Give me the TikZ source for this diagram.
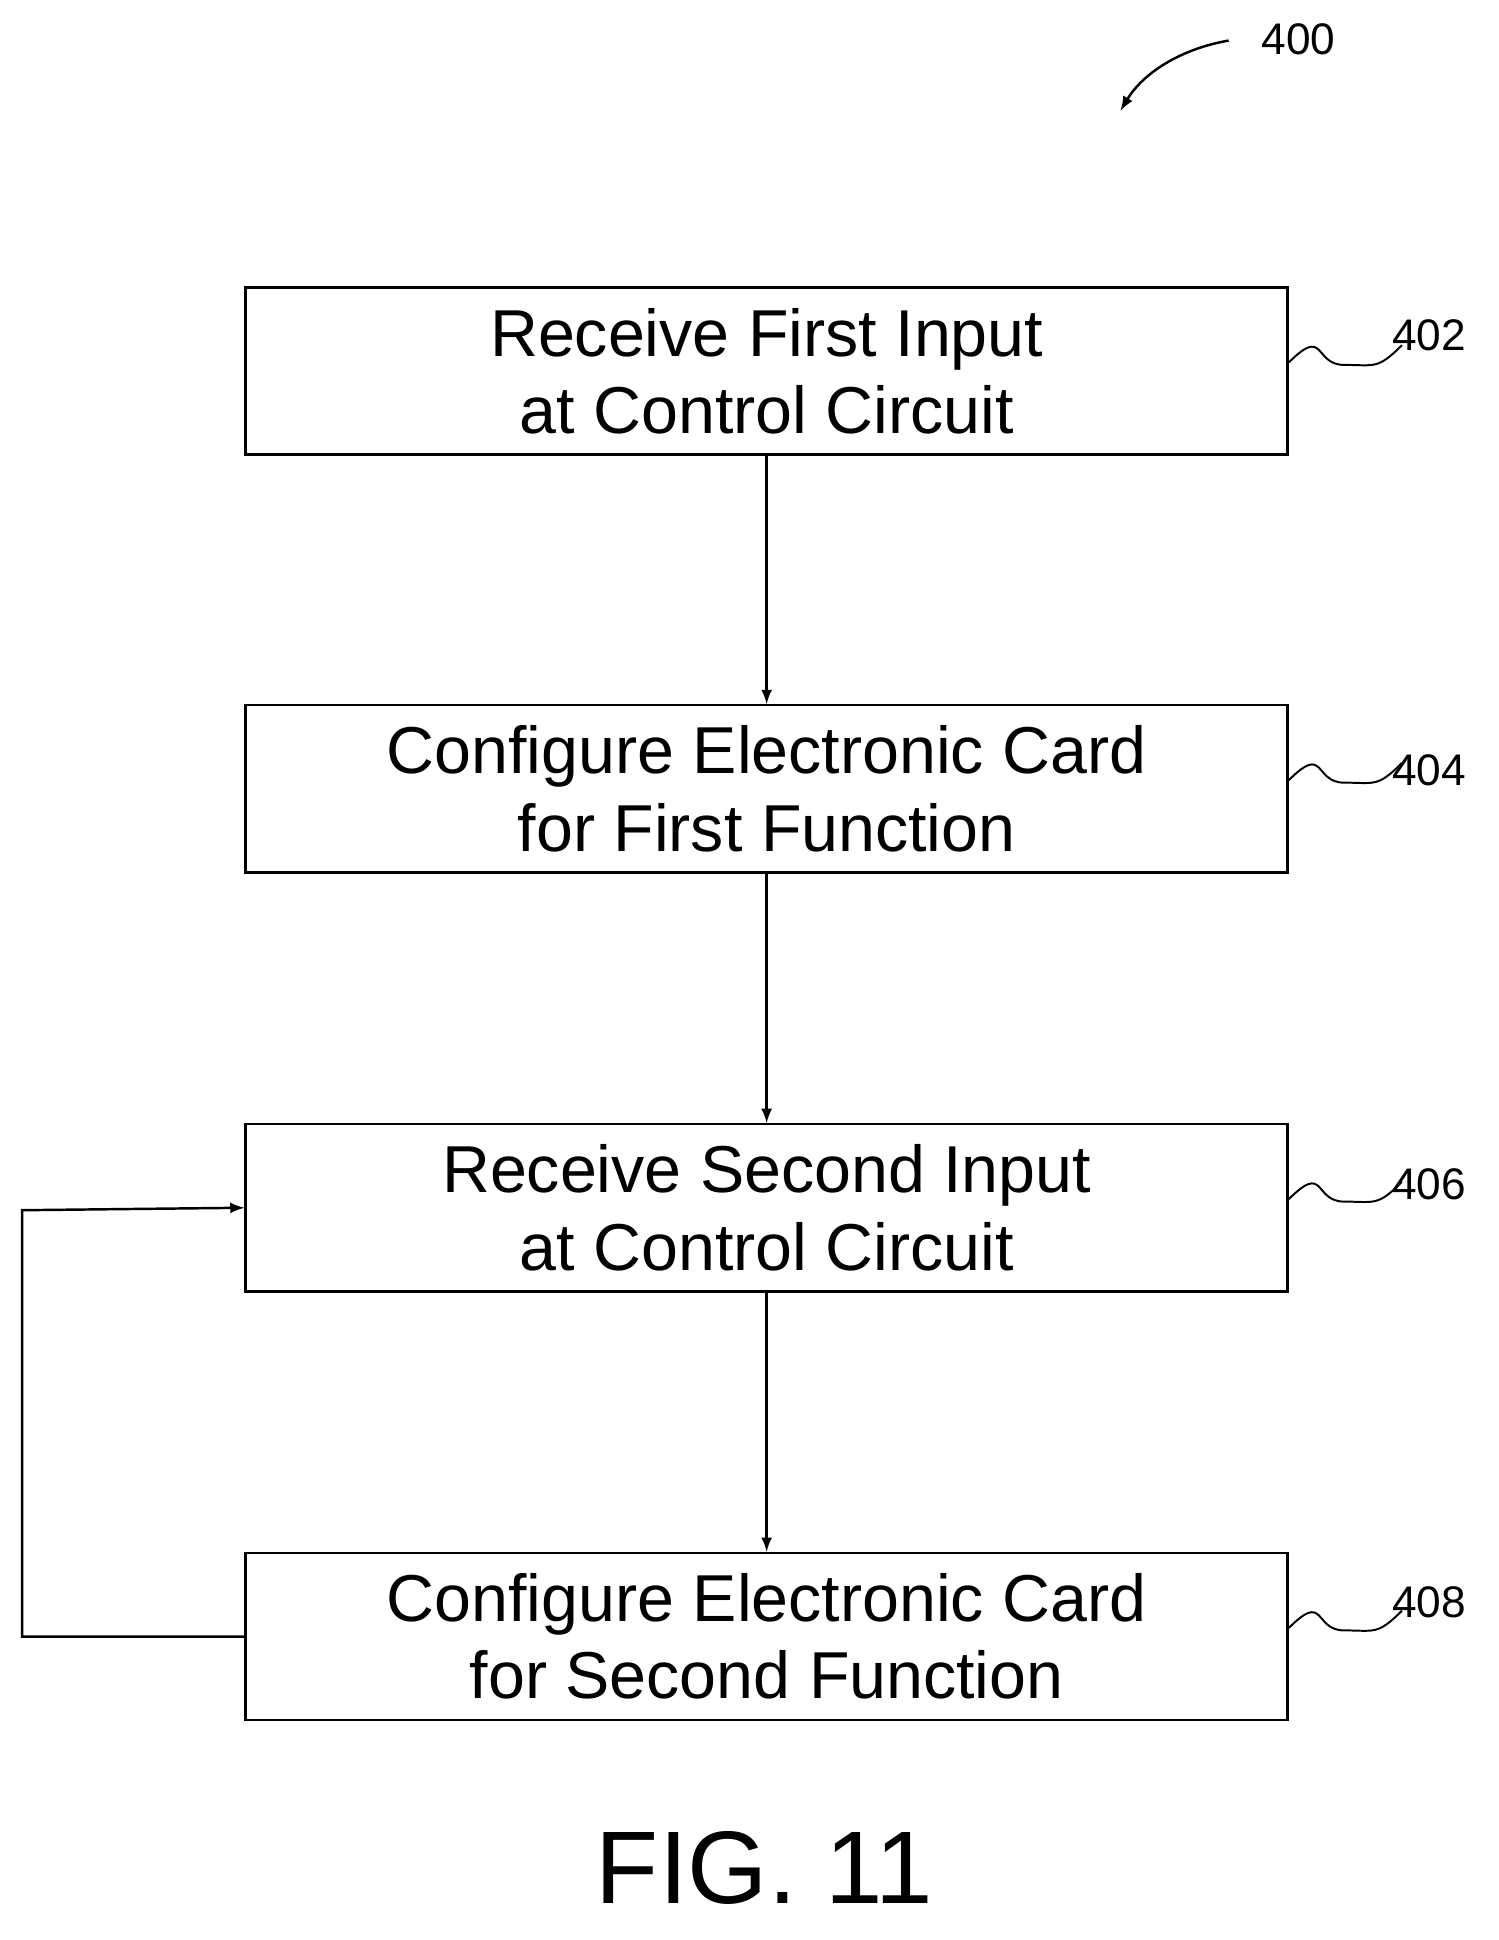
\documentclass[tikz,border=0pt]{standalone}
\usepackage{fontspec}
\setmainfont{Liberation Sans}
\usetikzlibrary{positioning}

\begin{document}
\begin{tikzpicture}[x=0.5pt, y=-0.5pt,
    stage/.style={draw, line width=1pt, minimum width=424pt, minimum height=68pt, align=center, font=\fontsize{27}{31.5}\selectfont, inner sep=0pt},
    ref/.style={font=\fontsize{18}{20}\selectfont}]

    \useasboundingbox (0,0) rectangle (1220,1579);

    \node[stage] (402) at (624, 302) {Receive First Input\\at Control Circuit};
    \node[stage] (404) at (624, 642) {Configure Electronic Card\\for First Function};
    \node[stage] (406) at (624, 983) {Receive Second Input\\at Control Circuit};
    \node[stage] (408) at (624, 1332) {Configure Electronic Card\\for Second Function};

    \node[ref] (l402) at (1163, 273) {402};
    \node[ref] (l404) at (1163, 627) {404};
    \node[ref] (l406) at (1163, 964) {406};
    \node[ref] (l408) at (1163, 1304) {408};
    \node[ref] (l400) at (1057, 32) {400};

    \draw[line width=1pt, -latex] (402) -- (404);
    \draw[line width=1pt, -latex] (404) -- (406);
    \draw[line width=1pt, -latex] (406) -- (408);
    \draw[line width=1pt, -latex] (408.west) -- (18, 1332) -- (18, 985) -- (406.west);

    \foreach \n in {402, 404, 406, 408}
        \draw[line width=0.8pt] (\n.east) ++(0,-7) .. controls +(30,-30) and +(-25,0) .. +(45,2) .. controls +(25,0) and +(-20,20) .. +(92,-14);

    \coordinate (tail) at (1000, 33);
    \draw[line width=1pt, -latex] (tail) .. controls (960, 40) and (930, 60) .. (912, 90);

    \node[font=\fontsize{42}{46}\selectfont] (fig) at (622, 1520) {FIG. 11};

\end{tikzpicture}
\end{document}
